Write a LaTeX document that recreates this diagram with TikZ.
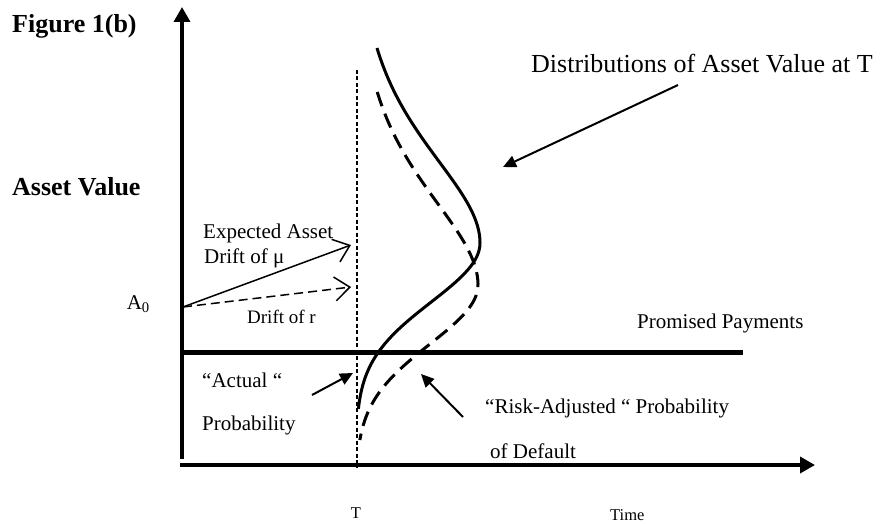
\documentclass[tikz,border=0pt]{standalone}
\usepackage{fontspec}
\setmainfont{Liberation Serif}
\usetikzlibrary{arrows.meta}

\tikzset{
  axis/.style={line width=3.5pt,-{Triangle[length=15pt,width=16pt]}},
  pointer/.style={line width=2pt,-{Triangle[length=13pt,width=12pt]}},
  drift/.style={line width=1.5pt,-{Straight Barb[length=15pt,width=24pt]}},
  lbl/.style={inner sep=0pt,anchor=base west,font=\fontsize{21}{25}\selectfont},
  biglbl/.style={inner sep=0pt,anchor=base west,font=\fontsize{26}{30}\selectfont},
  headlbl/.style={biglbl,font=\fontsize{26}{30}\selectfont\bfseries},
  ticklbl/.style={inner sep=0pt,anchor=base west,font=\fontsize{16.5}{20}\selectfont},
  density/.style={line width=3pt,smooth,samples=90},
  declare function={sg(\t)=(\t<0)*(82-0.11*\t)+(\t>=0)*59; bell(\t)=exp(-0.5*(\t/sg(\t))^2);},
}

\begin{document}
\begin{tikzpicture}[x=1pt,y=-1pt]
\useasboundingbox (0,0) rectangle (883,524);

% axes and the two horizontal levels
\coordinate (ybot) at (182,459);
\coordinate (ytop) at (182,7);
\coordinate (xbeg) at (180,465);
\coordinate (xend) at (815,465);
\coordinate (pbeg) at (182,352);
\coordinate (pend) at (743,352);
\coordinate (Ttop) at (357,70);
\coordinate (Tbot) at (357,467);
\draw[axis] (ybot) -- (ytop);
\draw[axis] (xbeg) -- (xend);
\draw[line width=5pt] (pbeg) -- (pend);
\draw[line width=2pt,dash pattern=on 4pt off 2.5pt] (Ttop) -- (Tbot);

% densities at T, skewed bells lying on the T line
\draw[density] plot[domain=-195:166] ({356+124*bell(\x)},{243+\x});
\draw[density,dash pattern=on 15pt off 8pt] plot[domain=-193:155] ({356+122*bell(\x)},{285+\x});

% drifts
\coordinate (a0pt) at (183,307);
\coordinate (mutip) at (351,245);
\coordinate (rtip) at (351,287);
\draw[drift] (a0pt) -- (mutip);
\draw[drift,dash pattern=on 9pt off 5pt] (a0pt) -- (rtip);

% labels
\node[headlbl] (fig) at (12,33) {Figure 1(b)};
\node[headlbl] (yname) at (12,195) {Asset Value};
\node[biglbl] (dist) at (531,73) {Distributions of Asset Value at T};
\node[lbl] (mu1) at (203,238) {Expected Asset};
\node[lbl] (mu2) at (204,263) {Drift of μ};
\node[lbl,font=\fontsize{19}{23}\selectfont] (rlab) at (247,323) {Drift of r};
\node[lbl,anchor=base east] (a0) at (150,309) {A\textsubscript{0}};
\node[lbl] (pay) at (637,328) {Promised Payments};
\node[lbl] (act1) at (202,387) {“Actual “};
\node[lbl] (act2) at (202,430) {Probability};
\node[lbl] (risk1) at (485,413) {“Risk-Adjusted “ Probability};
\node[lbl] (risk2) at (490,458) {of Default};
\node[ticklbl,anchor=base] (tlab) at (356,518) {T};
\node[ticklbl] (time) at (610,520) {Time};

% pointers to the curves
\coordinate (distfrom) at (678,85);
\coordinate (distto) at (503,167);
\coordinate (actfrom) at (312,395);
\coordinate (actto) at (353,373);
\coordinate (riskfrom) at (463,417);
\coordinate (riskto) at (421,374);
\draw[pointer] (distfrom) -- (distto);
\draw[pointer] (actfrom) -- (actto);
\draw[pointer] (riskfrom) -- (riskto);
\end{tikzpicture}
\end{document}
